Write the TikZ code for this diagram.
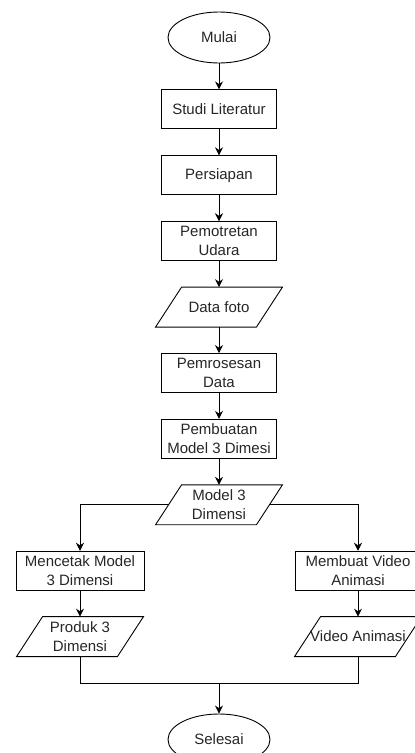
\documentclass[tikz,border=0pt]{standalone}
\usepackage{fontspec}
\setmainfont{Liberation Sans}
\usetikzlibrary{positioning,shapes.geometric,arrows.meta}

\begin{document}
\begin{tikzpicture}[->,>={Stealth[length=8pt,width=8pt]},auto,node distance=26pt,
    line width=0.9pt,
    every node/.style={font=\fontsize{15pt}{19pt}\selectfont,align=center,text=black!85},
    terminal/.style={ellipse,draw=black,minimum width=102pt,minimum height=51pt,inner sep=0pt},
    process/.style={rectangle,draw=black,minimum width=115pt,minimum height=39pt,inner sep=1pt},
    dataio/.style={rectangle,minimum width=100pt,minimum height=39pt,inner sep=0pt,
        append after command={\pgfextra{\draw[-] ([xshift=-13pt]\tikzlastnode.south west)
            -- ([xshift=-13pt]\tikzlastnode.south east) -- ([xshift=13pt]\tikzlastnode.north east)
            -- ([xshift=13pt]\tikzlastnode.north west) -- cycle;}}}]
    \useasboundingbox (0,0) rectangle (415pt,-753pt);
        \node[terminal] (mulai) at (219pt,-37.5pt) {Mulai};
        \node[process,below=of mulai] (studi) {Studi Literatur};
        \node[process,below=of studi] (persiapan) {Persiapan};
        \node[process,below=of persiapan] (pemotretan) {Pemotretan\\Udara};
        \node[dataio,below=of pemotretan] (datafoto) {Data foto};
        \node[process,below=of datafoto] (pemrosesan) {Pemrosesan\\Data};
        \node[process,below=of pemrosesan] (pembuatan) {Pembuatan\\Model 3 Dimesi};
        \node[dataio,below=of pembuatan] (model) {Model 3\\Dimensi};
        \node[process,minimum width=128pt,below=of model,xshift=-139pt] (mencetak) {Mencetak Model\\3 Dimensi};
        \node[process,minimum width=126pt,below=of model,xshift=139pt] (membuat) {Membuat Video\\Animasi};
        \node[dataio,below=of mencetak] (produk) {Produk 3\\Dimensi};
        \node[dataio,below=of membuat] (video) {Video Animasi};
        \node[terminal,below=57pt of produk,xshift=139pt] (selesai) {Selesai};
        \coordinate (join) at ([yshift=30pt]selesai.north);

        \draw (mulai) -- (studi);
        \draw (studi) -- (persiapan);
        \draw (persiapan) -- (pemotretan);
        \draw (pemotretan) -- (datafoto);
        \draw (datafoto) -- (pemrosesan);
        \draw (pemrosesan) -- (pembuatan);
        \draw (pembuatan) -- (model);
        \draw (model) -| (mencetak);
        \draw (model) -| (membuat);
        \draw (mencetak) -- (produk);
        \draw (membuat) -- (video);
        \draw[-] (produk) |- (join) -| (video);
        \draw (join) -- (selesai);
\end{tikzpicture}
\end{document}
